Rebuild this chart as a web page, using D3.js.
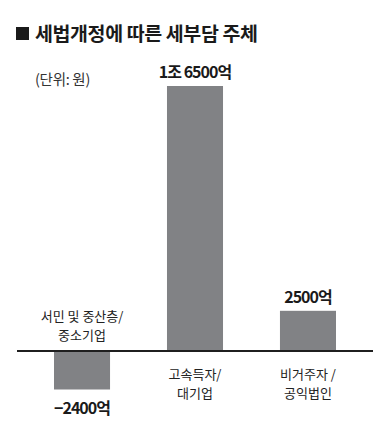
<!DOCTYPE html>
<html>
<head>
<meta charset="utf-8">
<script src="https://cdn.jsdelivr.net/npm/d3@7"></script>
<style>
  body { margin: 0; background: #fff; }
  text { font-family: "Noto Sans CJK KR", "Noto Sans", sans-serif; }
</style>
</head>
<body>
<div id="chart"></div>
<script>
// data
var categories = ['서민 및 중산층/중소기업', '고속득자/대기업', '비거주자 /공익법인'];
var values = [-2400, 16500, 2500];
var valueLabels = ['−2400억', '1조 6500억', '2500억'];
var catLines = [['서민 및 중산층/', '중소기업'], ['고속득자/', '대기업'], ['비거주자 /', '공익법인']];

var chart_width  = 376;
var chart_height = 430;

var svg = d3.select('#chart')
  .append('svg')
  .attr('width', chart_width)
  .attr('height', chart_height);

var x_scale = d3.scaleBand()
  .domain(categories)
  .range([54, 336])
  .paddingInner(0.504)
  .paddingOuter(0);

var y_scale = d3.scaleLinear()
  .domain([-2400, 16500])
  .range([389.5, 86]);

// title
svg.append('rect')
  .attr('x', 16).attr('y', 27)
  .attr('width', 13).attr('height', 13)
  .attr('fill', '#1a1a1a');

svg.append('text')
  .attr('x', 35).attr('y', 41)
  .attr('font-size', 19.5)
  .attr('font-weight', 'bold')
  .attr('fill', '#1a1a1a')
  .attr('letter-spacing', -0.4)
  .text('세법개정에 따른 세부담 주체');

svg.append('text')
  .attr('x', 35).attr('y', 85)
  .attr('font-size', 14.5)
  .attr('fill', '#333')
  .attr('letter-spacing', -0.3)
  .text('(단위: 원)');

// bars
svg.selectAll('rect.bar')
  .data(values)
  .enter()
  .append('rect')
  .attr('class', 'bar')
  .attr('x', function(d, i){ return x_scale(categories[i]); })
  .attr('y', function(d){ return y_scale(Math.max(0, d)); })
  .attr('width', x_scale.bandwidth())
  .attr('height', function(d){ return Math.abs(y_scale(d) - y_scale(0)); })
  .attr('fill', '#818285');

// baseline
svg.append('line')
  .attr('x1', 17).attr('x2', 373)
  .attr('y1', y_scale(0)).attr('y2', y_scale(0))
  .attr('stroke', '#1f1f1f')
  .attr('stroke-width', 2);

// value labels
svg.selectAll('text.val')
  .data(values)
  .enter()
  .append('text')
  .attr('class', 'val')
  .attr('x', function(d, i){ return x_scale(categories[i]) + x_scale.bandwidth() / 2; })
  .attr('y', function(d){ return d >= 0 ? y_scale(d) - 8 : y_scale(d) + 24; })
  .attr('text-anchor', 'middle')
  .attr('font-size', 16)
  .attr('font-weight', 'bold')
  .attr('letter-spacing', -1)
  .attr('fill', '#1a1a1a')
  .text(function(d, i){ return valueLabels[i]; });

// category labels
catLines.forEach(function(lines, i){
  var cx = x_scale(categories[i]) + x_scale.bandwidth() / 2;
  var y0 = values[i] < 0 ? y_scale(0) - 30 : y_scale(0) + 28;
  lines.forEach(function(l, j){
    svg.append('text')
      .attr('x', cx)
      .attr('y', y0 + j * 19)
      .attr('text-anchor', 'middle')
      .attr('font-size', 13)
      .attr('fill', '#222')
      .text(l);
  });
});
</script>
</body>
</html>
